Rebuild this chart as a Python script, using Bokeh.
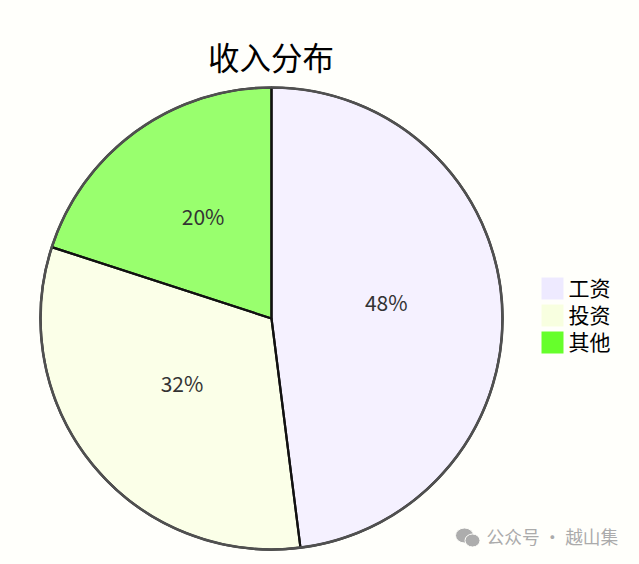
import math
from bokeh.plotting import figure
from bokeh.models import ColumnDataSource, Range1d
from bokeh.core.properties import value
from bokeh.embed import file_html
from bokeh.resources import INLINE

categories = ["工资", "投资", "其他"]
shares = [48, 32, 20]
colors = ["#F5F1FF", "#FBFFE8", "#99FF6E"]
legend_colors = ["#EEEAFF", "#F8FFE0", "#66FF2B"]
title_text = "收入分布"
watermark = "公众号 · 越山集"
BG = "#FFFFFB"
FONT = "Noto Sans CJK SC"

W, H = 639, 564
CX, CY, R = 271, 246, 231

p = figure(width=W, height=H, output_backend="svg", toolbar_location=None,
           x_range=Range1d(0, W), y_range=Range1d(0, H), min_border=0,
           background_fill_color=BG, border_fill_color=BG, outline_line_color=None)
p.axis.visible = False
p.grid.visible = False

start, starts, ends, mids = 0.0, [], [], []
total = sum(shares)
for s in shares:
    a0 = math.pi / 2 - 2 * math.pi * start / total
    a1 = math.pi / 2 - 2 * math.pi * (start + s) / total
    starts.append(a0); ends.append(a1); mids.append((a0 + a1) / 2)
    start += s

p.wedge(x=CX, y=CY, radius=R, start_angle=starts, end_angle=ends, direction="clock",
        fill_color=colors, line_color=None)
p.wedge(x=CX, y=CY, radius=R, start_angle=starts, end_angle=ends, direction="clock",
        fill_color=None, line_color="#111111", line_width=2.2)
p.circle(x=CX, y=CY, radius=R, fill_color=None, line_color="#505050", line_width=2.6)

src = ColumnDataSource(dict(
    x=[CX + R / 2 * math.cos(m) for m in mids],
    y=[CY + R / 2 * math.sin(m) for m in mids],
    t=[f"{s}%" for s in shares]))
p.text(x="x", y="y", text="t", source=src, text_align="center", text_baseline="middle",
       x_offset=-0.5, y_offset=-9,
       text_font=value(FONT), text_font_size="21px", text_color="#333333")

p.text(x=[CX - 0.5], y=[H - 55], text=[title_text], text_align="center", text_baseline="middle",
       text_font=value(FONT), text_font_size="31.5px", text_color="#000000")

# legend
LX, LTOP, SW, PITCH = 541, H - 277, 22, 27
tops = [LTOP - i * PITCH for i in range(len(categories))]
p.quad(left=LX, right=LX + SW, top=tops, bottom=[t - SW for t in tops],
       fill_color=legend_colors, line_color=None)
p.text(x=LX + 27, y=[t - SW / 2 + 2 for t in tops], text=categories, text_align="left", text_baseline="middle",
       text_font=value(FONT), text_font_size="21px", text_color="#000000")

# watermark: chat-bubble icon and text
p.ellipse(x=[464, 472], y=[H - 535, H - 540], width=[18, 15], height=[15, 13],
          fill_color="#ADADAD", line_color=BG, line_width=1)
p.text(x=[486], y=[H - 535], text=[watermark], text_align="left", text_baseline="middle",
       text_font=value(FONT), text_font_size="17.7px", text_color="#ABABAB")

html = file_html(p, INLINE).replace("</head>", f"<style>html,body{{background:{BG};}}</style></head>", 1)
open("out.html", "w").write(html)
